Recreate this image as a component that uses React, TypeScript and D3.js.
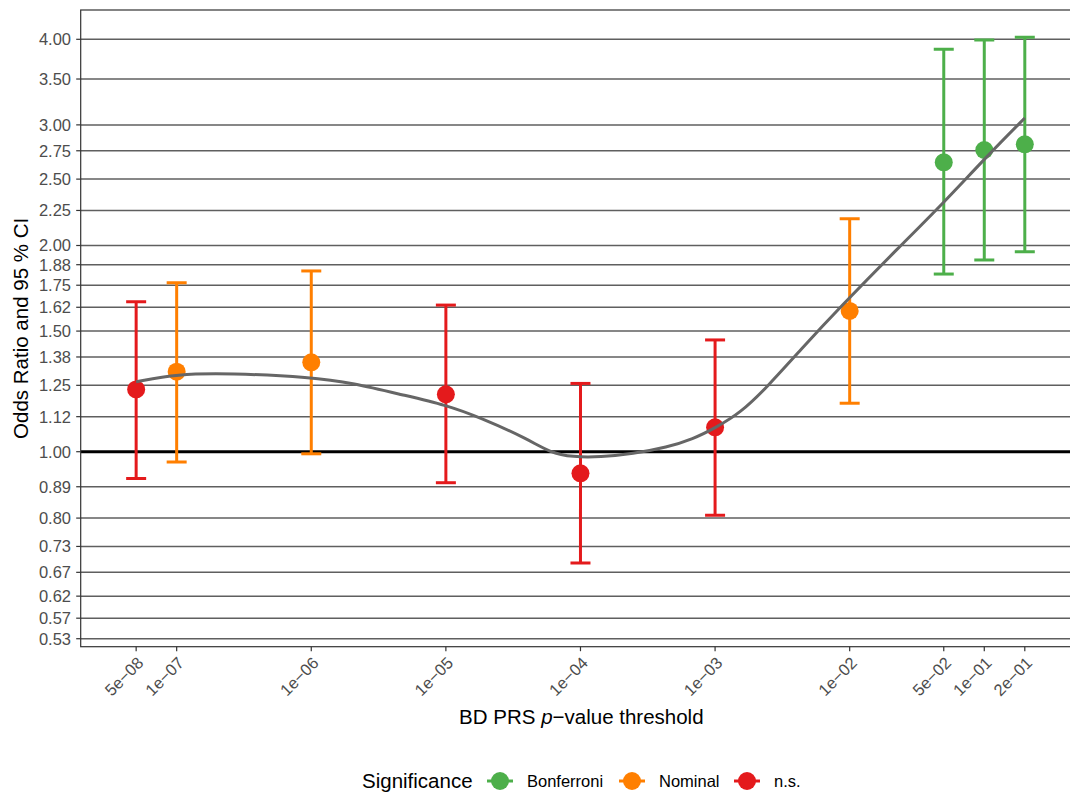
import React from "react";
import * as d3 from "d3";

// p-value thresholds and their estimates (odds ratio with 95% CI)
const thresholds = [5e-8, 1e-7, 1e-6, 1e-5, 1e-4, 1e-3, 1e-2, 5e-2, 1e-1, 2e-1];
const thresholdLabels = ["5e−08", "1e−07", "1e−06", "1e−05", "1e−04", "1e−03", "1e−02", "5e−02", "1e−01", "2e−01"];
const oddsRatio = [1.233, 1.3085, 1.3505, 1.213, 0.93, 1.0855, 1.605, 2.645, 2.757, 2.81];
const ciLow = [0.914, 0.966, 0.993, 0.901, 0.688, 0.808, 1.177, 1.817, 1.905, 1.959];
const ciHigh = [1.656, 1.765, 1.836, 1.637, 1.258, 1.456, 2.189, 3.867, 3.99, 4.027];
const significance = ["n.s.", "Nominal", "Nominal", "n.s.", "n.s.", "n.s.", "Nominal", "Bonferroni", "Bonferroni", "Bonferroni"];

// smoothed trend
const smoothP = [5e-8, 1e-7, 2.49e-7, 1e-6, 2.04e-6, 4.8e-6, 1e-5, 1.79e-5, 4.01e-5, 5.94e-5, 8.81e-5, 1.4e-4, 2.45e-4, 4.4e-4, 6.85e-4, 1e-3, 1.54e-3, 2.44e-3, 4.3e-3, 8.5e-3, 2.37e-2, 4.69e-2, 1.05e-1, 2e-1];
const smoothOR = [1.265, 1.2985, 1.3015, 1.2854, 1.2597, 1.21, 1.17, 1.122, 1.045, 0.997, 0.982, 0.982, 0.993, 1.015, 1.0436, 1.083, 1.139, 1.243, 1.4075, 1.626, 1.996, 2.28, 2.702, 3.07];

const yTicks = [1 / 1.875, 1 / 1.75, 1 / 1.625, 1 / 1.5, 1 / 1.375, 1 / 1.25, 1 / 1.125, 1, 1.125, 1.25, 1.375, 1.5, 1.625, 1.75, 1.875, 2, 2.25, 2.5, 2.75, 3, 3.5, 4];
const yTickLabels = ["0.53", "0.57", "0.62", "0.67", "0.73", "0.80", "0.89", "1.00", "1.12", "1.25", "1.38", "1.50", "1.62", "1.75", "1.88", "2.00", "2.25", "2.50", "2.75", "3.00", "3.50", "4.00"];

const legendGroups = ["Bonferroni", "Nominal", "n.s."];
const colors: Record<string, string> = {
  Bonferroni: "#4DAF4A",
  Nominal: "#FF7F00",
  "n.s.": "#E41A1C",
};

const width = 1070;
const height = 792;
const panel = { left: 80.7, right: 1082, top: 10, bottom: 646.7 };
const font = "'Liberation Sans', Arial, Helvetica, sans-serif";

const App = () => {
  const x = d3
    .scaleLog()
    .domain([Math.pow(10, -7.713), Math.pow(10, -0.274)])
    .range([panel.left, panel.right]);
  const y = d3.scaleLog().domain([0.5192, 4.414]).range([panel.bottom, panel.top]);

  const smoothLine = d3
    .line<number>()
    .x((d, i) => x(smoothP[i]))
    .y((d) => y(d))
    .curve(d3.curveBasis);

  const capHalf = 10;
  const legendX = [500, 632, 747];

  return (
    <svg
      width={width}
      height={height}
      style={{ position: "absolute", left: 0, top: 0, background: "#fff" }}
      fontFamily={font}
    >
      <rect width={width} height={height} fill="#fff" />
      <defs>
        <clipPath id="panel">
          <rect x={panel.left} y={panel.top} width={panel.right - panel.left} height={panel.bottom - panel.top} />
        </clipPath>
      </defs>

      {/* grid */}
      <g clipPath="url(#panel)">
        {yTicks.map((t, i) => (
          <line key={i} x1={panel.left} x2={panel.right} y1={y(t)} y2={y(t)} stroke="#5f5f5f" strokeWidth={1.5} />
        ))}
        <line x1={panel.left} x2={panel.right} y1={y(1)} y2={y(1)} stroke="#000" strokeWidth={3} />

        {/* error bars */}
        {thresholds.map((p, i) => {
          const c = colors[significance[i]];
          const cx = x(p);
          return (
            <g key={i} stroke={c} strokeWidth={3}>
              <line x1={cx} x2={cx} y1={y(ciLow[i])} y2={y(ciHigh[i])} />
              <line x1={cx - capHalf} x2={cx + capHalf} y1={y(ciLow[i])} y2={y(ciLow[i])} />
              <line x1={cx - capHalf} x2={cx + capHalf} y1={y(ciHigh[i])} y2={y(ciHigh[i])} />
            </g>
          );
        })}

        {/* points */}
        {thresholds.map((p, i) => (
          <circle key={i} cx={x(p)} cy={y(oddsRatio[i])} r={9} fill={colors[significance[i]]} />
        ))}

        {/* smooth */}
        <path d={smoothLine(smoothOR) ?? ""} fill="none" stroke="#666" strokeWidth={3} />
      </g>

      {/* panel border */}
      <rect
        x={panel.left}
        y={panel.top}
        width={panel.right - panel.left}
        height={panel.bottom - panel.top}
        fill="none"
        stroke="#333"
        strokeWidth={1.2}
      />

      {/* y axis */}
      {yTicks.map((t, i) => (
        <g key={i}>
          <line x1={panel.left - 4.5} x2={panel.left} y1={y(t)} y2={y(t)} stroke="#333" strokeWidth={1.2} />
          <text x={71} y={y(t)} dy="0.36em" textAnchor="end" fontSize={16.5} fill="#4D4D4D">
            {yTickLabels[i]}
          </text>
        </g>
      ))}

      {/* x axis */}
      {thresholds.map((p, i) => (
        <g key={i}>
          <line x1={x(p)} x2={x(p)} y1={panel.bottom} y2={panel.bottom + 4.5} stroke="#333" strokeWidth={1.2} />
          <text
            transform={`translate(${x(p)},${panel.bottom + 9}) rotate(-45)`}
            textAnchor="end"
            dy="0.72em"
            fontSize={16.5}
            fill="#4D4D4D"
          >
            {thresholdLabels[i]}
          </text>
        </g>
      ))}

      {/* axis titles */}
      <text x={(panel.left + panel.right) / 2} y={723.5} textAnchor="middle" fontSize={20.5} fill="#000">
        BD PRS <tspan fontStyle="italic">p</tspan>−value threshold
      </text>
      <text
        transform={`translate(28,${(panel.top + panel.bottom) / 2}) rotate(-90)`}
        textAnchor="middle"
        fontSize={20.5}
        fill="#000"
      >
        Odds Ratio and 95 % CI
      </text>

      {/* legend */}
      <text x={362} y={788} fontSize={20.5} fill="#000">
        Significance
      </text>
      {legendGroups.map((g, i) => (
        <g key={g}>
          <line x1={legendX[i] - 13} x2={legendX[i] + 13} y1={781} y2={781} stroke={colors[g]} strokeWidth={3} />
          <circle cx={legendX[i]} cy={781} r={9} fill={colors[g]} />
          <text x={legendX[i] + 27} y={787} fontSize={16.5} fill="#000">
            {g}
          </text>
        </g>
      ))}
    </svg>
  );
};

export default App;
